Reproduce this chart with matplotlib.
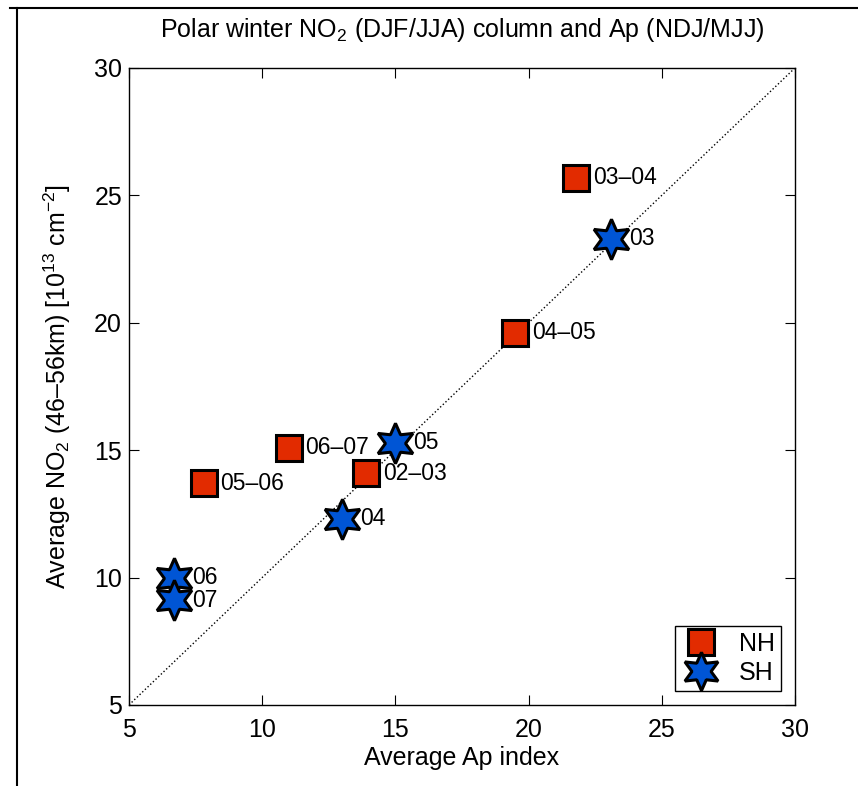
import numpy as np
import matplotlib
matplotlib.use('Agg')
import matplotlib.pyplot as plt
from matplotlib.lines import Line2D

plt.rcParams['font.family'] = ['Liberation Sans', 'DejaVu Sans']
plt.rcParams['mathtext.fontset'] = 'custom'
plt.rcParams['mathtext.rm'] = 'Liberation Sans'
plt.rcParams['mathtext.it'] = 'Liberation Sans:italic'

# northern hemisphere winters (squares)
nh_labels = ['03\u201304', '04\u201305', '06\u201307', '02\u201303', '05\u201306']
nh_ap = [21.8, 19.5, 11.0, 13.9, 7.8]
nh_no2 = [25.7, 19.6, 15.1, 14.1, 13.7]

# southern hemisphere winters (stars)
sh_labels = ['03', '05', '04', '06', '07']
sh_ap = [23.1, 15.0, 13.0, 6.7, 6.7]
sh_no2 = [23.3, 15.3, 12.3, 10.0, 9.1]

red = '#e22b00'
blue = '#0055d5'
fs = 18

fig = plt.figure(figsize=(8.58, 7.86), dpi=100)
ax = fig.add_axes([0.1503, 0.1031, 0.7762, 0.8104])

ax.plot([5, 30], [5, 30], 'k:', lw=1.0)
ax.plot(nh_ap, nh_no2, 's', ms=19, mfc=red, mec='k', mew=2.2, ls='none', label='NH')
ax.plot(sh_ap, sh_no2, marker=(6, 1, 0), ms=29, mfc=blue, mec='k', mew=2.2,
        ls='none', label='SH')

for x, y, s in zip(nh_ap, nh_no2, nh_labels):
    ax.annotate(s, (x, y), xytext=(12, 0), textcoords='offset points',
                va='center', ha='left', fontsize=16.5)
for x, y, s in zip(sh_ap, sh_no2, sh_labels):
    ax.annotate(s, (x, y), xytext=(13, 0), textcoords='offset points',
                va='center', ha='left', fontsize=16.5)

ax.set_xlim(5, 30)
ax.set_ylim(5, 30)
ax.set_xticks([5, 10, 15, 20, 25, 30])
ax.set_yticks([5, 10, 15, 20, 25, 30])
ax.tick_params(direction='in', length=7, width=0.8, top=True, right=True,
               labelsize=fs)
ax.tick_params(axis='x', pad=9.5)
ax.tick_params(axis='y', pad=5)
for sp in ax.spines.values():
    sp.set_linewidth(1.0)

ax.set_xlabel('Average Ap index', fontsize=fs, labelpad=3)
ax.set_ylabel('Average NO$_2$ (46\u201356km) [10$^{13}$ cm$^{-2}$]', fontsize=fs, labelpad=15)
ax.set_title('Polar winter NO$_2$ (DJF/JJA) column and Ap (NDJ/MJJ)', fontsize=fs, pad=22)

leg = ax.legend(loc='lower right', fontsize=fs, fancybox=False, edgecolor='k',
                framealpha=1, borderpad=0.25, handletextpad=0.7, labelspacing=0.2,
                borderaxespad=0.55, markerscale=0.95, handlelength=1.6)
leg.get_frame().set_linewidth(1.0)

# screenshot frame
fig.add_artist(Line2D([10 / 858, 1], [1 - 8 / 786, 1 - 8 / 786], color='k', lw=1.5))
fig.add_artist(Line2D([17 / 858, 17 / 858], [0, 1 - 8 / 786], color='k', lw=1.5))

fig.savefig('out.png', dpi=100)
